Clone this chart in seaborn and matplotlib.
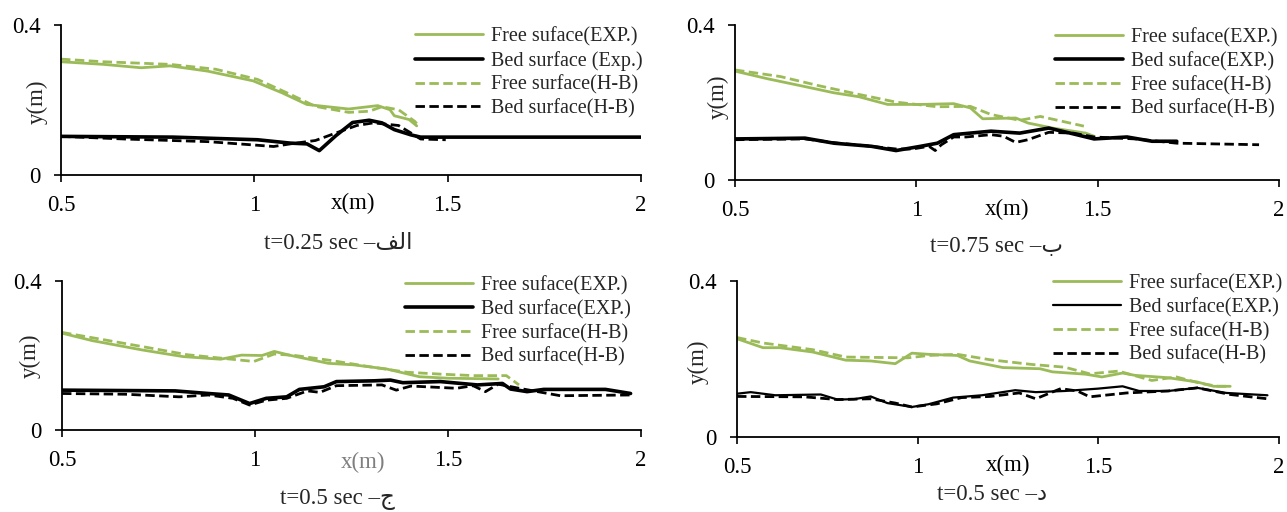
import matplotlib
matplotlib.use("Agg")
import matplotlib.pyplot as plt
import numpy as np
import pandas as pd
import seaborn as sns

# ---------------- data (x in m, y in m) ----------------
# panel a: t = 0.25 s
a_free_exp_x = [0.50, 0.61, 0.707, 0.782, 0.879, 0.997, 1.072, 1.136, 1.244, 1.319, 1.351, 1.362, 1.40, 1.42]
a_free_exp_y = [0.302, 0.295, 0.286, 0.291, 0.277, 0.251, 0.219, 0.188, 0.176, 0.185, 0.174, 0.158, 0.148, 0.131]
a_bed_exp_x = [0.50, 0.79, 1.008, 1.093, 1.136, 1.168, 1.211, 1.254, 1.297, 1.33, 1.362, 1.405, 1.43, 2.0]
a_bed_exp_y = [0.103, 0.101, 0.094, 0.085, 0.083, 0.065, 0.105, 0.140, 0.146, 0.139, 0.121, 0.107, 0.101, 0.101]
a_free_hb_x = [0.50, 0.61, 0.782, 0.90, 1.008, 1.093, 1.158, 1.244, 1.297, 1.33, 1.373, 1.415, 1.42]
a_free_hb_y = [0.309, 0.302, 0.295, 0.282, 0.255, 0.215, 0.183, 0.167, 0.170, 0.182, 0.174, 0.143, 0.137]
a_bed_hb_x = [0.50, 0.664, 0.879, 0.986, 1.05, 1.093, 1.158, 1.211, 1.265, 1.308, 1.373, 1.405, 1.43, 1.495]
a_bed_hb_y = [0.103, 0.096, 0.089, 0.081, 0.076, 0.083, 0.092, 0.112, 0.132, 0.139, 0.132, 0.112, 0.096, 0.094]

# panel b: t = 0.75 s
b_free_exp_x = [0.50, 0.591, 0.693, 0.773, 0.841, 0.921, 1.012, 1.103, 1.149, 1.183, 1.274, 1.308, 1.376, 1.467, 1.49]
b_free_exp_y = [0.281, 0.261, 0.241, 0.225, 0.215, 0.195, 0.195, 0.197, 0.186, 0.158, 0.160, 0.147, 0.134, 0.121, 0.113]
b_bed_exp_x = [0.50, 0.693, 0.773, 0.876, 0.944, 1.012, 1.058, 1.103, 1.206, 1.285, 1.365, 1.433, 1.49, 1.581, 1.65, 1.718]
b_bed_exp_y = [0.106, 0.108, 0.095, 0.087, 0.076, 0.087, 0.095, 0.117, 0.126, 0.121, 0.134, 0.119, 0.106, 0.111, 0.100, 0.100]
b_free_hb_x = [0.50, 0.625, 0.728, 0.841, 0.944, 1.058, 1.149, 1.206, 1.285, 1.342, 1.462]
b_free_hb_y = [0.284, 0.267, 0.244, 0.221, 0.201, 0.189, 0.190, 0.169, 0.154, 0.164, 0.139]
b_bed_hb_x = [0.50, 0.693, 0.785, 0.876, 0.944, 0.989, 1.035, 1.052, 1.069, 1.103, 1.137, 1.206, 1.24,
              1.274, 1.308, 1.365, 1.433, 1.49, 1.604, 1.718, 1.945]
b_bed_hb_y = [0.104, 0.106, 0.095, 0.087, 0.080, 0.080, 0.087, 0.076, 0.091, 0.111, 0.111, 0.117, 0.113,
              0.097, 0.104, 0.123, 0.121, 0.111, 0.106, 0.095, 0.091]

# panel c: t = 0.5 s
c_free_exp_x = [0.50, 0.578, 0.707, 0.814, 0.911, 0.965, 1.018, 1.05, 1.093, 1.19, 1.254, 1.34, 1.426, 1.501, 1.63]
c_free_exp_y = [0.260, 0.240, 0.215, 0.197, 0.190, 0.201, 0.200, 0.211, 0.200, 0.179, 0.175, 0.164, 0.143, 0.139, 0.137]
c_bed_exp_x = [0.50, 0.793, 0.879, 0.932, 0.986, 1.029, 1.082, 1.115, 1.179, 1.211, 1.308, 1.351, 1.383,
               1.48, 1.576, 1.641, 1.662, 1.705, 1.748, 1.908, 1.973]
c_bed_exp_y = [0.107, 0.105, 0.098, 0.094, 0.071, 0.085, 0.089, 0.109, 0.116, 0.130, 0.132, 0.134, 0.127,
               0.130, 0.121, 0.125, 0.110, 0.103, 0.109, 0.109, 0.098]
c_free_hb_x = [0.50, 0.621, 0.729, 0.825, 0.911, 0.997, 1.05, 1.104, 1.201, 1.308, 1.394, 1.48, 1.566, 1.651, 1.684]
c_free_hb_y = [0.262, 0.240, 0.220, 0.202, 0.193, 0.184, 0.204, 0.200, 0.186, 0.168, 0.155, 0.150, 0.146, 0.146, 0.121]
c_bed_hb_x = [0.50, 0.664, 0.804, 0.879, 0.943, 0.986, 1.029, 1.082, 1.136, 1.168, 1.211, 1.329, 1.366,
              1.404, 1.522, 1.565, 1.597, 1.63, 1.684, 1.791, 1.973]
c_bed_hb_y = [0.098, 0.096, 0.089, 0.094, 0.085, 0.067, 0.080, 0.085, 0.105, 0.101, 0.119, 0.121, 0.107,
              0.118, 0.112, 0.119, 0.103, 0.123, 0.112, 0.092, 0.094]

# panel d: t = 0.5 s
d_free_exp_x = [0.50, 0.572, 0.618, 0.709, 0.801, 0.87, 0.938, 0.984, 1.03, 1.11, 1.144, 1.236, 1.339, 1.373,
                1.465, 1.51, 1.567, 1.602, 1.693, 1.774, 1.819, 1.865]
d_free_exp_y = [0.252, 0.229, 0.229, 0.218, 0.197, 0.195, 0.188, 0.215, 0.212, 0.209, 0.195, 0.178, 0.175, 0.167,
                0.161, 0.154, 0.164, 0.158, 0.152, 0.141, 0.130, 0.130]
d_bed_exp_x = [0.50, 0.538, 0.606, 0.732, 0.778, 0.824, 0.87, 0.916, 0.984, 1.03, 1.098, 1.178, 1.27, 1.327,
               1.407, 1.499, 1.567, 1.613, 1.693, 1.774, 1.854, 1.968]
d_bed_exp_y = [0.111, 0.115, 0.107, 0.109, 0.096, 0.097, 0.104, 0.087, 0.077, 0.084, 0.101, 0.107, 0.120, 0.115,
               0.118, 0.124, 0.130, 0.118, 0.118, 0.126, 0.113, 0.107]
d_free_hb_x = [0.50, 0.572, 0.709, 0.801, 0.973, 1.03, 1.11, 1.201, 1.316, 1.407, 1.476, 1.556, 1.648, 1.716,
               1.785, 1.831, 1.865]
d_free_hb_y = [0.255, 0.241, 0.224, 0.205, 0.203, 0.209, 0.212, 0.198, 0.186, 0.179, 0.162, 0.169, 0.145, 0.154,
               0.137, 0.130, 0.130]
d_bed_hb_x = [0.50, 0.686, 0.778, 0.87, 0.938, 0.984, 1.053, 1.121, 1.201, 1.281, 1.327, 1.396, 1.442, 1.476,
              1.579, 1.693, 1.774, 1.865, 1.968]
d_bed_hb_y = [0.104, 0.103, 0.096, 0.098, 0.087, 0.077, 0.085, 0.101, 0.104, 0.113, 0.098, 0.124, 0.118, 0.103,
              0.113, 0.118, 0.126, 0.109, 0.098]

x_ticks = [0.5, 1, 1.5, 2]
x_tick_labels = ["0.5", "1", "1.5", "2"]
y_ticks = [0, 0.4]
y_tick_labels = ["0", "0.4"]

# legend labels as printed in each panel
a_labels = ["Free suface(EXP.)", "Bed surface (Exp.)", "Free surface(H-B)", "Bed surface(H-B)"]
b_labels = ["Free suface(EXP.)", "Bed suface(EXP.)", "Free suface(H-B)", "Bed surface(H-B)"]
c_labels = ["Free suface(EXP.)", "Bed surface(EXP.)", "Free surface(H-B)", "Bed surface(H-B)"]
d_labels = ["Free surface(EXP.)", "Bed surface(EXP.)", "Free suface(H-B)", "Bed suface(H-B)"]

# captions (Arabic panel letters in presentation forms, visual order)
a_caption = "t=0.25 sec \u2013\ufed2\ufedf\ufe8d"
b_caption = "t=0.75 sec \u2013\ufe8f"
c_caption = "t=0.5 sec \u2013\ufe9d"
d_caption = "t=0.5 sec \u2013\ufea9"

# ---------------- styling ----------------
sns.set_style("ticks")
plt.rcParams["font.family"] = ["Liberation Serif", "DejaVu Sans"]

GREEN = "#9BBB59"
DASH = (0, (3.4, 1.6))
W, H = 1287, 512
fig = plt.figure(figsize=(W / 100, H / 100), dpi=100)


def px_axes(left, top, right, bottom):
    return fig.add_axes([left / W, 1 - bottom / H, (right - left) / W, (bottom - top) / H])


def draw_panel(ax, series, labels, black_lw, leg_xy, xlabel_pos, ylabel_pos, caption, cap_xy,
               xlabel_color="black"):
    (fx, fy), (bx, by), (hfx, hfy), (hbx, hby) = series
    sns.lineplot(x=fx, y=fy, ax=ax, color=GREEN, lw=2.0, sort=False, label=labels[0])
    sns.lineplot(x=bx, y=by, ax=ax, color="black", lw=black_lw, sort=False, label=labels[1])
    sns.lineplot(x=hfx, y=hfy, ax=ax, color=GREEN, lw=2.0, linestyle=DASH, sort=False, label=labels[2])
    sns.lineplot(x=hbx, y=hby, ax=ax, color="black", lw=2.0, linestyle=DASH, sort=False, label=labels[3])

    ax.set_xlim(0.5, 2)
    ax.set_ylim(0, 0.4)
    ax.set_xticks(x_ticks)
    ax.set_xticklabels(x_tick_labels)
    ax.set_yticks(y_ticks)
    ax.set_yticklabels(y_tick_labels)
    ax.tick_params(direction="out", length=5, width=1.2, labelsize=16.5, pad=9.5, colors="black")
    for side in ("left", "bottom"):
        ax.spines[side].set_linewidth(1.3)
        ax.spines[side].set_color("black")
    sns.despine(ax=ax)

    ax.set_xlabel("x(m)", fontsize=16.5, color=xlabel_color)
    ax.xaxis.label.set_va("center")
    ax.xaxis.set_label_coords(*xlabel_pos)
    ax.set_ylabel("y(m)", fontsize=16.5)
    ax.yaxis.label.set_va("center")
    ax.yaxis.set_label_coords(*ylabel_pos)

    lx, ly = leg_xy
    ax.legend(loc="upper left", bbox_to_anchor=(lx / W, 1 - (ly - 12) / H),
              bbox_transform=fig.transFigure, frameon=False, fontsize=14.5,
              borderpad=0, borderaxespad=0, handlelength=3.4, handletextpad=0.35,
              labelspacing=0.22)

    fig.text(cap_xy[0] / W, 1 - cap_xy[1] / H, caption, ha="center", va="center", fontsize=16.5)


ax_a = px_axes(61, 25, 641, 175)
ax_b = px_axes(735, 25, 1279, 180)
ax_c = px_axes(62, 281, 641, 430)
ax_d = px_axes(737, 281, 1279, 437)

draw_panel(ax_a,
           [(a_free_exp_x, a_free_exp_y), (a_bed_exp_x, a_bed_exp_y),
            (a_free_hb_x, a_free_hb_y), (a_bed_hb_x, a_bed_hb_y)],
           a_labels, 2.6, (415, 39), (0.503, -0.193), (-0.041, 0.49), a_caption, (338, 243))
draw_panel(ax_b,
           [(b_free_exp_x, b_free_exp_y), (b_bed_exp_x, b_bed_exp_y),
            (b_free_hb_x, b_free_hb_y), (b_bed_hb_x, b_bed_hb_y)],
           b_labels, 2.6, (1055, 40), (0.50, -0.19), (-0.031, 0.54), b_caption, (997, 246))
draw_panel(ax_c,
           [(c_free_exp_x, c_free_exp_y), (c_bed_exp_x, c_bed_exp_y),
            (c_free_hb_x, c_free_hb_y), (c_bed_hb_x, c_bed_hb_y)],
           c_labels, 2.6, (405, 288), (0.52, -0.22), (-0.055, 0.50), c_caption, (337, 499),
           xlabel_color="#7f7f7f")
draw_panel(ax_d,
           [(d_free_exp_x, d_free_exp_y), (d_bed_exp_x, d_bed_exp_y),
            (d_free_hb_x, d_free_hb_y), (d_bed_hb_x, d_bed_hb_y)],
           d_labels, 1.6, (1053, 286), (0.50, -0.18), (-0.072, 0.48), d_caption, (992, 494))

fig.savefig("out.png", dpi=100, facecolor="white")
